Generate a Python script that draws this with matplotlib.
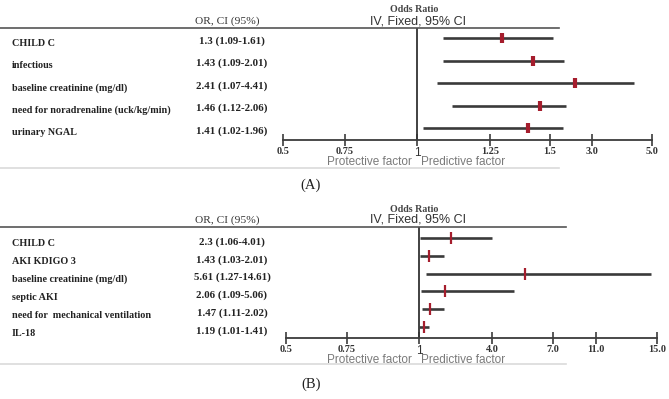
import numpy as np
import matplotlib.pyplot as plt
from matplotlib.lines import Line2D

# panel A data
labels_a = ["CHILD C", "infectious", "baseline creatinine (mg/dl)",
            "need for noradrenaline (uck/kg/min)", "urinary NGAL"]
or_a = [1.3, 1.43, 2.41, 1.46, 1.41]
lo_a = [1.09, 1.09, 1.07, 1.12, 1.02]
hi_a = [1.61, 2.01, 4.41, 2.06, 1.96]
ticks_a = [0.5, 0.75, 1, 1.25, 1.5, 3.0, 5.0]
tick_labels_a = ["0.5", "0.75", "1", "1.25", "1.5", "3.0", "5.0"]

# panel B data
labels_b = ["CHILD C", "AKI KDIGO 3", "baseline creatinine (mg/dl)",
            "septic AKI", "need for  mechanical ventilation", "IL-18"]
or_b = [2.3, 1.43, 5.61, 2.06, 1.47, 1.19]
lo_b = [1.06, 1.03, 1.27, 1.09, 1.11, 1.01]
hi_b = [4.01, 2.01, 14.61, 5.06, 2.02, 1.41]
ticks_b = [0.5, 0.75, 1, 4.0, 7.0, 11.0, 15.0]
tick_labels_b = ["0.5", "0.75", "1", "4.0", "7.0", "11.0", "15.0"]

W, H = 669, 399
SERIF = "Liberation Serif"
SANS = "Liberation Sans"


def fx(px):
    return px / W


def fy(py):
    return 1 - py / H


def forest(fig, labels, ors, los, his, ticks, tick_labels, tick_px,
           top, row0, step, bottom, label_off, line_end, gray_y, factor_y,
           caption_y, caption, mk_w, mk_h):
    n = len(labels)
    left, right = tick_px[0], tick_px[-1]
    ax = fig.add_axes([fx(left), fy(bottom), fx(right - left), (bottom - top) / H])
    # uneven axis of the original: piecewise-linear between the ticks
    ax.set_xscale("function", functions=(
        lambda v: np.interp(v, ticks, tick_px),
        lambda p: np.interp(p, tick_px, ticks)))
    ax.set_xlim(ticks[0], ticks[-1])
    ax.set_ylim((bottom - row0) / step, (top - row0) / step)
    ax.patch.set_alpha(0)
    for s in ["top", "left", "right"]:
        ax.spines[s].set_visible(False)
    ax.spines["bottom"].set_color("#3c3c3c")
    ax.spines["bottom"].set_linewidth(1.3)
    ax.set_yticks([])
    ax.set_xticks(ticks)
    ax.set_xticklabels(tick_labels)
    ax.tick_params(axis="x", direction="inout", length=9, width=1.2,
                   color="#3c3c3c", pad=0.5)
    for t in ax.get_xticklabels():
        t.set_color("#333333")
        if t.get_text() == "1":
            t.set_fontfamily(SANS)
            t.set_fontsize(8.5)
        else:
            t.set_fontfamily(SERIF)
            t.set_fontweight("bold")
            t.set_fontsize(7.4)
    ax.axvline(1, color="#333333", lw=1.3)

    y = np.arange(n)
    ax.hlines(y, los, his, color="#3a3a3a", lw=1.9)
    ax.plot(ors, y, ls="none", marker="|", ms=mk_h, mew=mk_w, color="#a51d2d")

    for i in range(n):
        py = row0 + step * i + label_off
        fig.text(fx(12), fy(py), labels[i], family=SERIF, weight="bold",
                 size=7.3, color="#222222", va="center", ha="left")
        fig.text(fx(232), fy(py - 2), f"{ors[i]} ({los[i]}-{his[i]})", family=SERIF,
                 weight="bold", size=7.8, color="#222222", va="center", ha="center")

    # header
    fig.text(fx(227), fy(top - 7), "OR, CI (95%)", family=SERIF, size=8.2,
             color="#333333", va="center", ha="center")
    fig.text(fx(414), fy(top - 18), "Odds Ratio", family=SERIF, weight="bold",
             size=7.2, color="#444444", va="center", ha="center")
    fig.text(fx(418), fy(top - 7), "IV, Fixed, 95% CI", family=SANS, size=9,
             color="#333333", va="center", ha="center")
    fig.add_artist(Line2D([0, fx(line_end)], [fy(top), fy(top)],
                          transform=fig.transFigure, color="#555555", lw=1.2))
    fig.text(fx(412), fy(factor_y), "Protective factor", family=SANS, size=8.5,
             color="#7a7a7a", va="center", ha="right")
    fig.text(fx(421), fy(factor_y), "Predictive factor", family=SANS, size=8.5,
             color="#7a7a7a", va="center", ha="left")
    fig.add_artist(Line2D([0, fx(line_end)], [fy(gray_y), fy(gray_y)],
                          transform=fig.transFigure, color="#dadada", lw=1.2))
    fig.text(fx(311), fy(caption_y), caption, family=SERIF, size=10.5,
             color="#222222", va="center", ha="center")
    return ax


fig = plt.figure(figsize=(W / 100, H / 100), dpi=100)
fig.patch.set_facecolor("white")

forest(fig, labels_a, or_a, lo_a, hi_a, ticks_a, tick_labels_a,
       [283, 345, 417, 490, 550, 592, 652],
       top=28, row0=38, step=22.5, bottom=140, label_off=5,
       line_end=559, gray_y=168, factor_y=162, caption_y=185,
       caption="(A)", mk_w=3, mk_h=7)

forest(fig, labels_b, or_b, lo_b, hi_b, ticks_b, tick_labels_b,
       [286, 347, 419, 492, 553, 596, 657],
       top=227, row0=238, step=17.8, bottom=338, label_off=6,
       line_end=566, gray_y=364, factor_y=360, caption_y=384,
       caption="(B)", mk_w=1.6, mk_h=9)

fig.savefig("out.png", dpi=100)
